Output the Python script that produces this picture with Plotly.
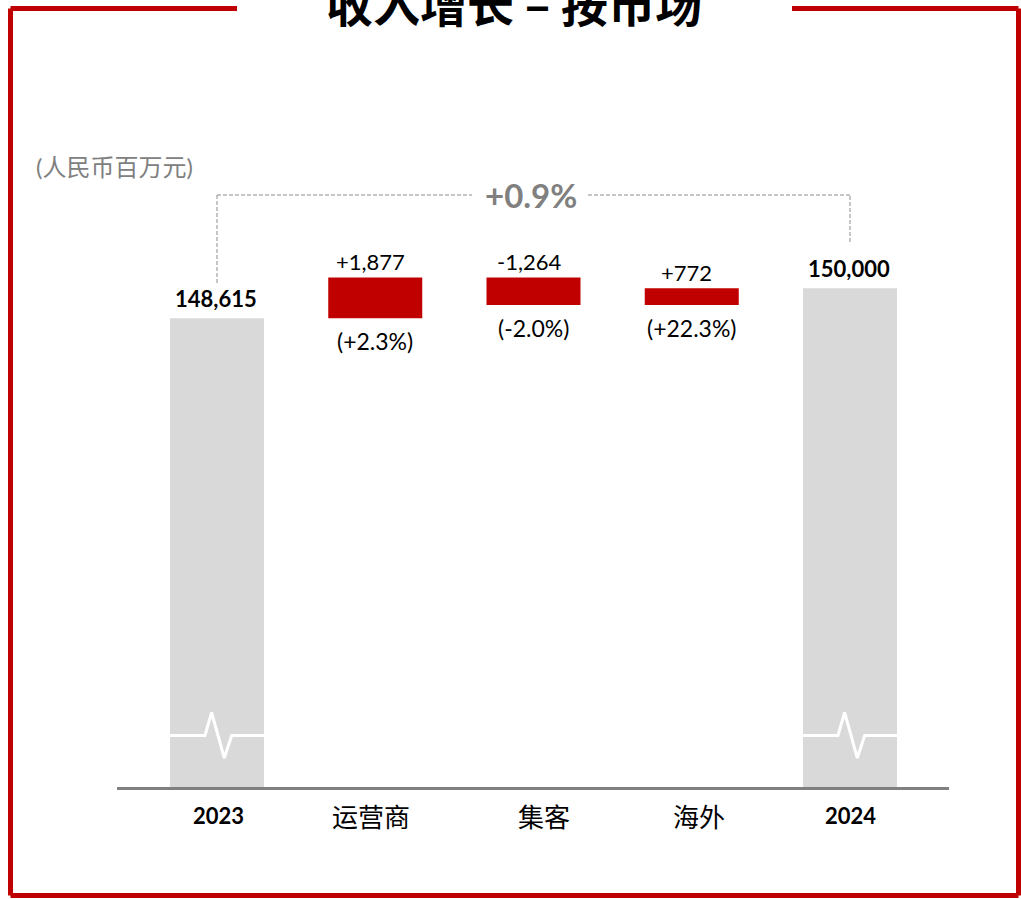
import plotly.graph_objects as go

# ---- data ----
categories = ["2023", "运营商", "集客", "海外", "2024"]
total_2023 = 148615
total_2024 = 150000
change_labels = ["运营商", "集客", "海外"]
change_values = [1877, -1264, 772]
change_pct = ["(+2.3%)", "(-2.0%)", "(+22.3%)"]
total_growth = "+0.9%"
unit_label = "(人民币百万元)"
title_text = "收入增长 – 按市场"

RED = "#C00000"
GRAY_BAR = "#D9D9D9"
GRAY_TXT = "#808080"
FONT = "Lato, 'Noto Sans CJK SC', sans-serif"
CJK = "'Noto Sans CJK SC', Lato, sans-serif"

W, H = 1021, 899
ML, MR, MT, MB = 117, 72, 87, 112
PW, PH = W - ML - MR, H - MT - MB

def px2py(py):  # pixel y -> paper y
    return (H - MB - py) / PH

def px2px(px):  # pixel x -> paper x
    return (px - ML) / PW

# cumulative bases
bases = []
run = total_2023
for v in change_values:
    bases.append(run)
    run += v

idx_total = [0, 4]
idx_change = [1, 2, 3]
BW = 0.594
yr = [126975, 159292]

fig = go.Figure()
fig.add_trace(go.Bar(x=idx_total, y=[total_2023, total_2024], base=[0, 0], width=BW,
                     marker=dict(color=GRAY_BAR, line=dict(width=0)), hoverinfo="skip"))
fig.add_trace(go.Bar(x=idx_change, y=change_values, base=bases, width=BW,
                     marker=dict(color=RED, line=dict(width=0)), hoverinfo="skip"))

# break squiggles on the total bars (white zig-zag)
upp = (yr[1] - yr[0]) / PH  # units per pixel
for i, v in zip(idx_total, [total_2023, total_2024]):
    ybase = yr[0] + (787 - 735.5) * upp
    ypeak = yr[0] + (787 - 712.5) * upp
    ytrough = yr[0] + (787 - 758) * upp
    xs = [i - BW / 2, i - 0.076, i - 0.034, i + 0.046, i + 0.093, i + BW / 2]
    ys = [ybase, ybase, ypeak, ytrough, ybase, ybase]
    fig.add_trace(go.Scatter(x=xs, y=ys, mode="lines", line=dict(color="white", width=3),
                             hoverinfo="skip", cliponaxis=False))

ann = []
# total labels
for i, v in zip(idx_total, [total_2023, total_2024]):
    ann.append(dict(x=i, y=v, xref="x", yref="y", text=f"<b>{v:,}</b>", showarrow=False,
                    yanchor="middle", yshift=20, xshift=-1,
                    font=dict(family=FONT, size=22, color="black")))
# change labels
for i, b, v, p in zip(idx_change, bases, change_values, change_pct):
    top = max(b, b + v)
    bot = min(b, b + v)
    sign = "+" if v > 0 else "-"
    ann.append(dict(x=i, y=top, xref="x", yref="y", text=f"{sign}{abs(v):,}", showarrow=False,
                    yanchor="middle", yshift=16, xshift=-5,
                    font=dict(family=FONT, size=22, color="black")))
    ann.append(dict(x=i, y=bot, xref="x", yref="y", text=p, showarrow=False,
                    yanchor="middle", yshift=-23, xshift=0,
                    font=dict(family=FONT, size=23, color="black")))
# category labels
cat_shift = [1, -4, 10, 7, 0]
for i, c in enumerate(categories):
    bold = c.isdigit()
    ann.append(dict(x=i, y=px2py(815), xref="x", yref="paper",
                    text=f"<b>{c}</b>" if bold else c, showarrow=False, yanchor="middle",
                    xshift=cat_shift[i],
                    font=dict(family=FONT if bold else CJK, size=22 if bold else 26, color="black")))
# growth label
ann.append(dict(x=2, y=px2py(195), xref="x", yref="paper", text=f"<b>{total_growth}</b>",
                showarrow=False, yanchor="middle", xshift=-3,
                font=dict(family=FONT, size=33, color=GRAY_TXT)))
# unit label
ann.append(dict(x=px2px(34), y=px2py(166), xref="paper", yref="paper", text=unit_label,
                showarrow=False, xanchor="left", yanchor="middle",
                font=dict(family=FONT, size=24, color=GRAY_TXT)))
# title (clipped at top, as in the reference)
ann.append(dict(x=px2px(514), y=px2py(2), xref="paper", yref="paper", text=f"<b>{title_text}</b>",
                showarrow=False, xanchor="center", yanchor="middle",
                font=dict(family=CJK, size=47, color="black")))

shapes = []
dash = dict(color="#8c8c8c", width=1, dash="4px,2px")
yh = px2py(195)
shapes += [
    dict(type="line", xref="x", yref="paper", x0=0, x1=0, y0=px2py(283), y1=yh, line=dash),
    dict(type="line", xref="x", yref="paper", x0=0, x1=(472 - 217) / 158.25, y0=yh, y1=yh, line=dash),
    dict(type="line", xref="x", yref="paper", x0=(588 - 217) / 158.25, x1=4, y0=yh, y1=yh, line=dash),
    dict(type="line", xref="x", yref="paper", x0=4, x1=4, y0=px2py(242), y1=yh, line=dash),
]
# red frame
frame = dict(color=RED, width=5)
fl, fr, ft, fb = px2px(10.5), px2px(1018.5), px2py(8.5), px2py(895.5)
shapes += [
    dict(type="line", xref="paper", yref="paper", x0=fl, x1=fl, y0=fb, y1=ft, line=frame),
    dict(type="line", xref="paper", yref="paper", x0=fr, x1=fr, y0=fb, y1=ft, line=frame),
    dict(type="line", xref="paper", yref="paper", x0=fl, x1=fr, y0=fb, y1=fb, line=frame),
    dict(type="line", xref="paper", yref="paper", x0=fl, x1=px2px(237), y0=ft, y1=ft, line=frame),
    dict(type="line", xref="paper", yref="paper", x0=px2px(792), x1=fr, y0=ft, y1=ft, line=frame),
]

fig.update_layout(
    width=W, height=H, margin=dict(l=ML, r=MR, t=MT, b=MB, pad=0),
    paper_bgcolor="white", plot_bgcolor="white", showlegend=False,
    barmode="overlay",
    xaxis=dict(range=[(ML - 217) / 158.25, (ML + PW - 217) / 158.25], showgrid=False,
               zeroline=False, showticklabels=False, ticks="", showline=True,
               linecolor="#808080", linewidth=3, fixedrange=True),
    yaxis=dict(range=yr, showgrid=False, zeroline=False, showticklabels=False, ticks="",
               showline=False, fixedrange=True),
    annotations=ann, shapes=shapes,
)
fig.write_html("out.html", config={"displayModeBar": False},
               post_script="document.body.style.margin='0';document.body.style.overflow='hidden';")
